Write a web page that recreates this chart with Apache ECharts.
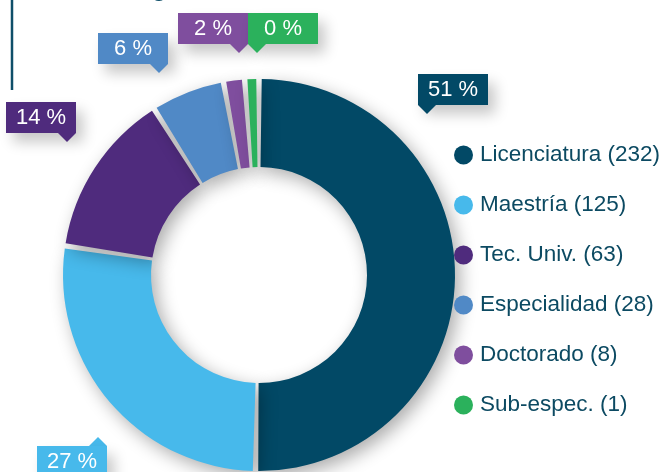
<!DOCTYPE html>
<html>
<head>
<meta charset="utf-8">
<script src="https://cdn.jsdelivr.net/npm/echarts@6/dist/echarts.min.js"></script>
<style>
  html, body { margin: 0; padding: 0; background: #fff; }
  #chart { width: 662px; height: 472px; }
</style>
</head>
<body>
<div id="chart"></div>
<script>
// ---- data ----
const categories = ['Licenciatura', 'Maestría', 'Tec. Univ.', 'Especialidad', 'Doctorado', 'Sub-espec.'];
const counts = [232, 125, 63, 28, 8, 1];
const percentLabels = ['51 %', '27 %', '14 %', '6 %', '2 %', '0 %'];

// ---- styling / layout ----
const colors = ['#024966', '#47b9eb', '#4f2b7d', '#5089c6', '#7f4e9e', '#2bb15c'];
// label box top-left, pointer side
const labelAnchors = [
  { x: 418, y: 74,  ptr: 'downLeft' },
  { x: 37,  y: 437, ptr: 'upRight' },
  { x: 6,   y: 102, ptr: 'downRight' },
  { x: 98,  y: 33,  ptr: 'downRight' },
  { x: 178, y: 13,  ptr: 'downRight' },
  { x: 248, y: 13,  ptr: 'downLeft' }
];
const FONT = '"Liberation Sans", Arial, sans-serif';

function triCanvas(color, up) {
  const c = document.createElement('canvas');
  c.width = 18; c.height = 9;
  const g = c.getContext('2d');
  g.fillStyle = color;
  g.beginPath();
  if (up) { g.moveTo(0, 9); g.lineTo(18, 9); g.lineTo(9, 0); }
  else { g.moveTo(0, 0); g.lineTo(18, 0); g.lineTo(9, 9); }
  g.closePath();
  g.fill();
  return c;
}

const rich = {};
colors.forEach((col, i) => {
  rich['b' + i] = {
    backgroundColor: col, color: '#fff', fontSize: 22, fontFamily: FONT,
    width: 70, height: 31, lineHeight: 31, align: 'center',
    shadowColor: 'rgba(0,0,0,0.22)', shadowBlur: 14, shadowOffsetX: 7, shadowOffsetY: 9
  };
  rich['td' + i] = { backgroundColor: { image: triCanvas(col, false) }, width: 18, height: 9, lineHeight: 9, fontSize: 1 };
  rich['tu' + i] = { backgroundColor: { image: triCanvas(col, true) }, width: 18, height: 9, lineHeight: 9, fontSize: 1 };
});

const seriesData = categories.map((name, i) => {
  const a = labelAnchors[i];
  let fmt;
  if (a.ptr === 'upRight') {
    fmt = '{tu' + i + '| }\n{b' + i + '|' + percentLabels[i] + '}';
  } else {
    fmt = '{b' + i + '|' + percentLabels[i] + '}\n{td' + i + '| }';
  }
  const triKey = (a.ptr === 'upRight' ? 'tu' : 'td') + i;
  const r = {};
  r['b' + i] = rich['b' + i];
  r[triKey] = Object.assign({}, rich[triKey], { align: (a.ptr === 'downLeft') ? 'left' : 'right' });
  return {
    name: name,
    value: counts[i],
    itemStyle: { color: colors[i] },
    label: { formatter: fmt, rich: r }
  };
});

const chart = echarts.init(document.getElementById('chart'), null, { renderer: 'canvas' });
chart.setOption({
  animation: false,
  backgroundColor: '#ffffff',
  legend: {
    orient: 'vertical',
    left: 449,
    top: 137,
    icon: 'circle',
    itemWidth: 19,
    itemHeight: 19,
    itemGap: 24,
    selectedMode: false,
    formatter: function (name) {
      const i = categories.indexOf(name);
      return name + ' (' + counts[i] + ')';
    },
    textStyle: { color: '#0c4a62', fontSize: 22.5, lineHeight: 26, fontFamily: FONT, padding: [0, 0, 0, 2] },
    data: categories
  },
  graphic: [
    { type: 'line', shape: { x1: 12, y1: 0, x2: 12, y2: 90 }, style: { stroke: '#0f4f69', lineWidth: 2.5 } },
    { type: 'text', x: 151, y: 2, style: { text: 'g', fontSize: 30, fontFamily: FONT, fill: '#0f4f69', verticalAlign: 'bottom' } }
  ],
  series: [{
    type: 'pie',
    center: [259, 275],
    radius: [108, 196],
    startAngle: 90,
    clockwise: true,
    padAngle: 1.6,
    minAngle: 2.6,
    avoidLabelOverlap: false,
    itemStyle: {
      borderWidth: 0,
      shadowColor: 'rgba(0,0,0,0.33)', shadowBlur: 18, shadowOffsetX: 5, shadowOffsetY: 6
    },
    emphasis: { disabled: true },
    label: { show: true, position: 'outside', padding: 0 },
    labelLine: { show: false },
    labelLayout: function (params) {
      const a = labelAnchors[params.dataIndex];
      return { x: a.x, y: a.y, align: 'left', verticalAlign: 'top' };
    },
    data: seriesData
  }]
});
</script>
</body>
</html>
